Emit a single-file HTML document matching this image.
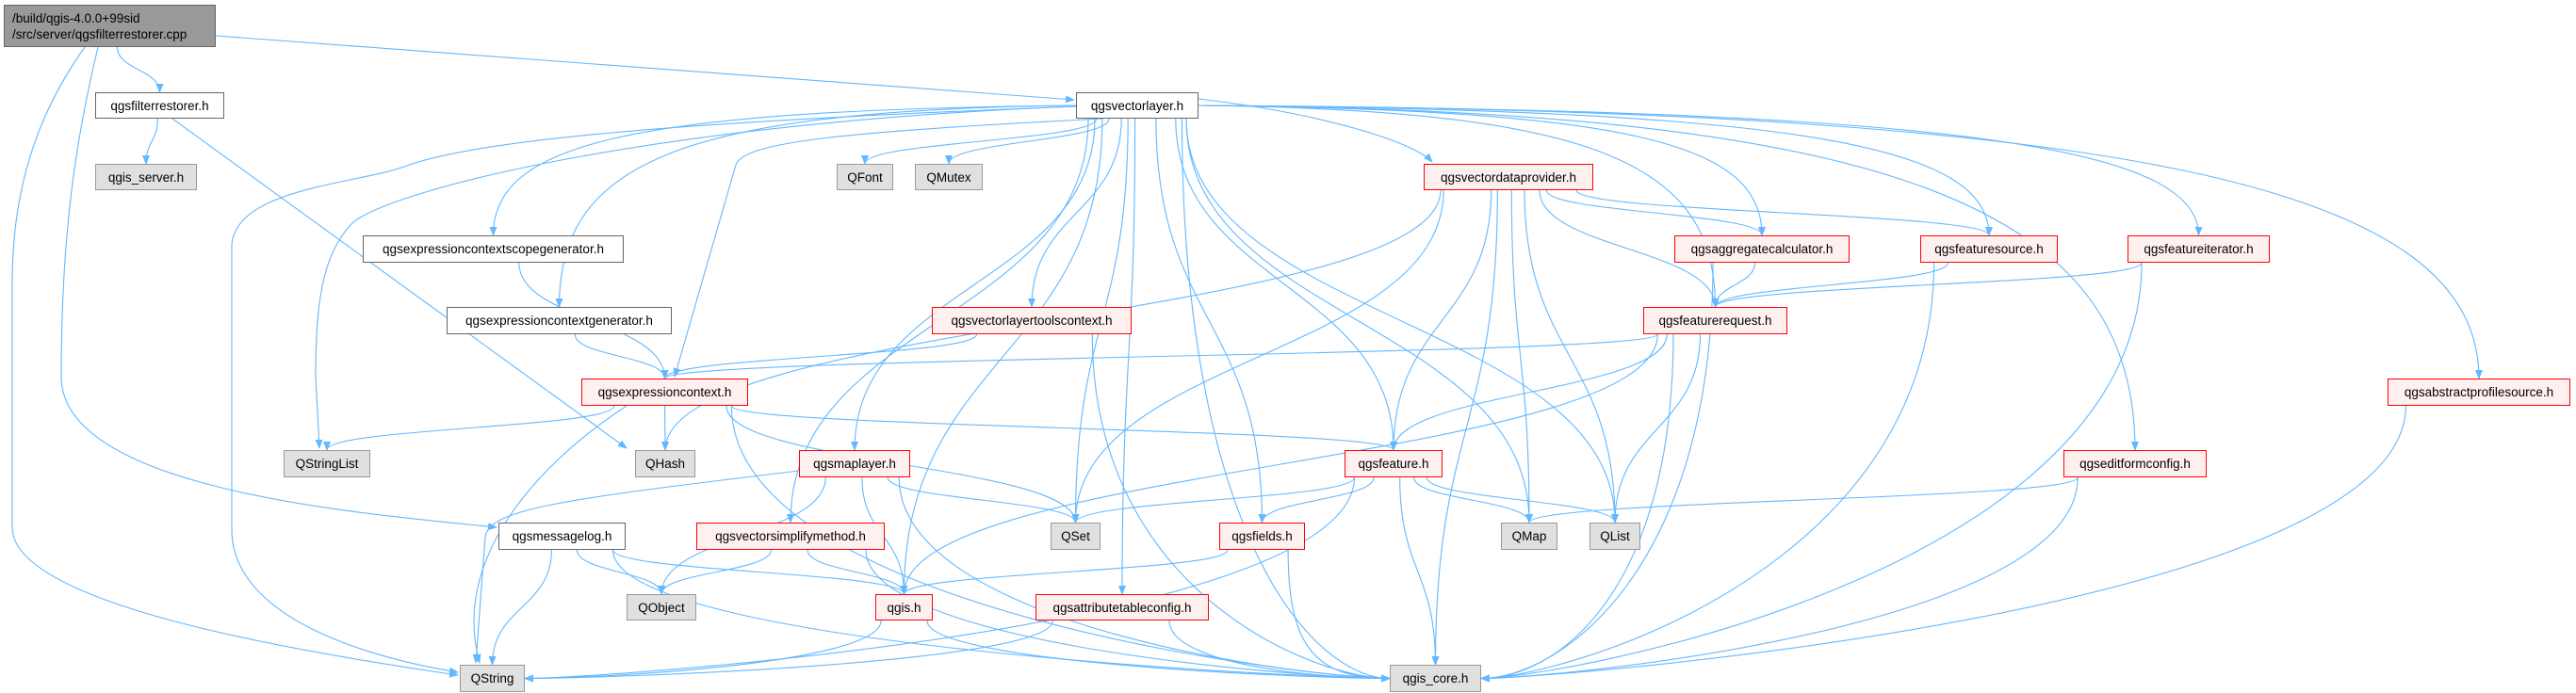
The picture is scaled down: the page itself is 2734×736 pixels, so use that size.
<!DOCTYPE html>
<html><head><meta charset="utf-8">
<style>
body{margin:0;width:2734px;height:736px;background:#fff;position:relative;overflow:hidden;font-family:"Liberation Sans","DejaVu Sans",sans-serif;}
.n{position:absolute;box-sizing:border-box;font-size:13.5px;color:#000;display:flex;align-items:center;justify-content:center;white-space:nowrap;border:1.5px solid #666;background:#fff;}
.r{border-color:#f00;background:#fff0f0;}
.g{border-color:#999;background:#e0e0e0;}
.root{background:#999;border-color:#666;justify-content:flex-start;padding-left:8px;line-height:17px;}
svg{position:absolute;left:0;top:0;}
</style></head><body>
<svg id="s" width="2734" height="736"><defs><marker id="a" markerWidth="10" markerHeight="8" refX="9" refY="4" orient="auto" markerUnits="userSpaceOnUse"><path d="M0,0 L10,4 L0,8 z" fill="#63b8ff"/></marker></defs></svg>
<div class="n root" id="root" style="left:4px;top:5px;width:225px;height:45px">/build/qgis-4.0.0+99sid<br>/src/server/qgsfilterrestorer.cpp</div>
<div class="n" id="fr" style="left:101px;top:98px;width:137px;height:28px">qgsfilterrestorer.h</div>
<div class="n g" id="qs" style="left:101px;top:174px;width:108px;height:28px">qgis_server.h</div>
<div class="n" id="vl" style="left:1142px;top:98px;width:130px;height:28px">qgsvectorlayer.h</div>
<div class="n g" id="QFont" style="left:888px;top:174px;width:60px;height:28px">QFont</div>
<div class="n g" id="QMutex" style="left:971px;top:174px;width:72px;height:28px">QMutex</div>
<div class="n" id="ecsg" style="left:385px;top:250px;width:277px;height:29px">qgsexpressioncontextscopegenerator.h</div>
<div class="n" id="ecg" style="left:474px;top:326px;width:239px;height:29px">qgsexpressioncontextgenerator.h</div>
<div class="n r" id="vltc" style="left:989px;top:326px;width:212px;height:29px">qgsvectorlayertoolscontext.h</div>
<div class="n r" id="ec" style="left:617px;top:402px;width:177px;height:29px">qgsexpressioncontext.h</div>
<div class="n g" id="QStringList" style="left:301px;top:478px;width:92px;height:29px">QStringList</div>
<div class="n g" id="QHash" style="left:674px;top:478px;width:64px;height:29px">QHash</div>
<div class="n r" id="ml" style="left:848px;top:478px;width:118px;height:29px">qgsmaplayer.h</div>
<div class="n" id="msg" style="left:529px;top:555px;width:135px;height:29px">qgsmessagelog.h</div>
<div class="n r" id="vsm" style="left:739px;top:555px;width:200px;height:29px">qgsvectorsimplifymethod.h</div>
<div class="n g" id="QSet" style="left:1115px;top:555px;width:53px;height:29px">QSet</div>
<div class="n r" id="fields" style="left:1294px;top:555px;width:91px;height:29px">qgsfields.h</div>
<div class="n g" id="QObject" style="left:665px;top:631px;width:74px;height:28px">QObject</div>
<div class="n r" id="qgis" style="left:929px;top:631px;width:61px;height:28px">qgis.h</div>
<div class="n r" id="atc" style="left:1099px;top:631px;width:184px;height:28px">qgsattributetableconfig.h</div>
<div class="n g" id="QString" style="left:488px;top:706px;width:69px;height:29px">QString</div>
<div class="n r" id="vdp" style="left:1511px;top:174px;width:180px;height:28px">qgsvectordataprovider.h</div>
<div class="n r" id="agg" style="left:1777px;top:250px;width:186px;height:29px">qgsaggregatecalculator.h</div>
<div class="n r" id="fs" style="left:2038px;top:250px;width:146px;height:29px">qgsfeaturesource.h</div>
<div class="n r" id="fi" style="left:2258px;top:250px;width:151px;height:29px">qgsfeatureiterator.h</div>
<div class="n r" id="freq" style="left:1744px;top:326px;width:153px;height:29px">qgsfeaturerequest.h</div>
<div class="n r" id="aps" style="left:2534px;top:402px;width:194px;height:29px">qgsabstractprofilesource.h</div>
<div class="n r" id="feat" style="left:1427px;top:478px;width:104px;height:29px">qgsfeature.h</div>
<div class="n r" id="efc" style="left:2190px;top:478px;width:152px;height:29px">qgseditformconfig.h</div>
<div class="n g" id="QMap" style="left:1593px;top:555px;width:60px;height:29px">QMap</div>
<div class="n g" id="QList" style="left:1687px;top:555px;width:54px;height:29px">QList</div>
<div class="n g" id="core" style="left:1475px;top:706px;width:97px;height:29px">qgis_core.h</div>
<script>
var R={};
document.querySelectorAll('.n[id]').forEach(function(e){R[e.id]=[e.offsetLeft,e.offsetTop,e.offsetWidth,e.offsetHeight];});
var C={ // custom paths
"root>QString":"M90,50 C40,120 13,200 13,300 L13,560 C13,640 300,690 486,717",
"root>msg":"M104,50 C80,150 65,250 65,400 C65,520 380,545 527,560",
"root>vl":"M229,38 L1140,106",
"fr>QHash":"M183,126 L665,476",
"vl>QString":"M1143,113 C700,130 500,150 429,177 C380,195 250,200 246,260 L246,566 C250,660 400,700 486,714",
"vl>QStringList":"M1143,113 C700,130 420,200 375,236 C340,270 335,330 335,400 L339,476",
"vl>ec":"M1170,126 C900,140 790,150 781,175 L716,400",
"ec>QString":"M665,431 C560,500 480,600 509,704",
"ml>QString":"M848,500 C600,530 520,540 515,570 L505,704",
"vl>vdp":"M1272,105 C1400,120 1500,150 1520,172"
};
var E=[["root","fr"],["root","vl"],["root","QString"],["root","msg"],["fr","qs"],["fr","QHash"],
["vl","QFont"],["vl","QMutex"],["vl","ecsg"],["vl","ecg"],["vl","ec"],["vl","QStringList"],["vl","QString"],["vl","ml"],["vl","vsm"],["vl","QSet"],["vl","qgis"],["vl","vltc"],["vl","atc"],["vl","fields"],["vl","feat"],["vl","QMap"],["vl","QList"],["vl","vdp"],["vl","agg"],["vl","fs"],["vl","freq"],["vl","fi"],["vl","efc"],["vl","aps"],["vl","core"],
["ecsg","ec"],["ecg","ec"],["vltc","ec"],["vltc","core"],
["ec","QStringList"],["ec","QHash"],["ec","QString"],["ec","QSet"],["ec","feat"],["ec","core"],
["ml","QString"],["ml","QObject"],["ml","QSet"],["ml","qgis"],["ml","core"],
["msg","QObject"],["msg","QString"],["msg","qgis"],["msg","core"],
["vsm","QObject"],["vsm","qgis"],["vsm","core"],["fields","qgis"],["fields","core"],
["qgis","QString"],["qgis","core"],["atc","QString"],["atc","core"],
["vdp","QHash"],["vdp","QSet"],["vdp","feat"],["vdp","QMap"],["vdp","QList"],["vdp","freq"],["vdp","agg"],["vdp","fs"],["vdp","core"],
["agg","freq"],["agg","core"],["fs","freq"],["fs","core"],["fi","freq"],["fi","core"],
["freq","ec"],["freq","feat"],["freq","QList"],["freq","qgis"],["freq","core"],
["feat","QSet"],["feat","QMap"],["feat","QList"],["feat","fields"],["feat","QString"],["feat","core"],
["efc","QMap"],["efc","core"],["aps","core"]];
var s=document.getElementById('s'),h='';
E.forEach(function(p){var a=R[p[0]],b=R[p[1]],d=C[p[0]+'>'+p[1]];
if(!d){
var sx=a[0]+a[2]/2,sy=a[1]+a[3],tx=b[0]+b[2]/2,ty=b[1];
var dx=tx-sx;
if(b[1]<=a[1]+a[3]-2){
 sy=a[1]+a[3]/2;ty=b[1]+b[3]/2;
 if(tx>sx){sx=a[0]+a[2];tx=b[0];}else{sx=a[0];tx=b[0]+b[2];}
 d='M'+sx+','+sy+' L'+tx+','+ty;
}else if(p[0]=='vl'&&Math.abs(dx)>350&&b[1]<500){
 sy=a[1]+a[3]*0.5; sx=dx>0?a[0]+a[2]:a[0];
 d='M'+sx+','+sy+' C'+(sx+dx*0.7)+','+(sy+5)+' '+tx+','+(sy+(ty-sy)*0.3)+' '+tx+','+ty;
}else{
 sx+=Math.max(-a[2]/2.5,Math.min(a[2]/2.5,dx*0.15));
 if(b[1]+b[3]>=700&&Math.abs(dx)>150){
  ty=b[1]+b[3]/2; tx=dx>0?b[0]:b[0]+b[2];
  d='M'+sx+','+sy+' C'+sx+','+(sy+(ty-sy)*0.75)+' '+(tx-(dx>0?80:-80))+','+ty+' '+tx+','+ty;
 }else{
  var m=(sy+ty)/2;d='M'+sx+','+sy+' C'+sx+','+m+' '+tx+','+m+' '+tx+','+ty;
 }
}}
h+='<path d="'+d+'" fill="none" stroke="#63b8ff" stroke-width="1.1" marker-end="url(#a)"/>';});
s.insertAdjacentHTML('beforeend',h);
</script>
</body></html>
